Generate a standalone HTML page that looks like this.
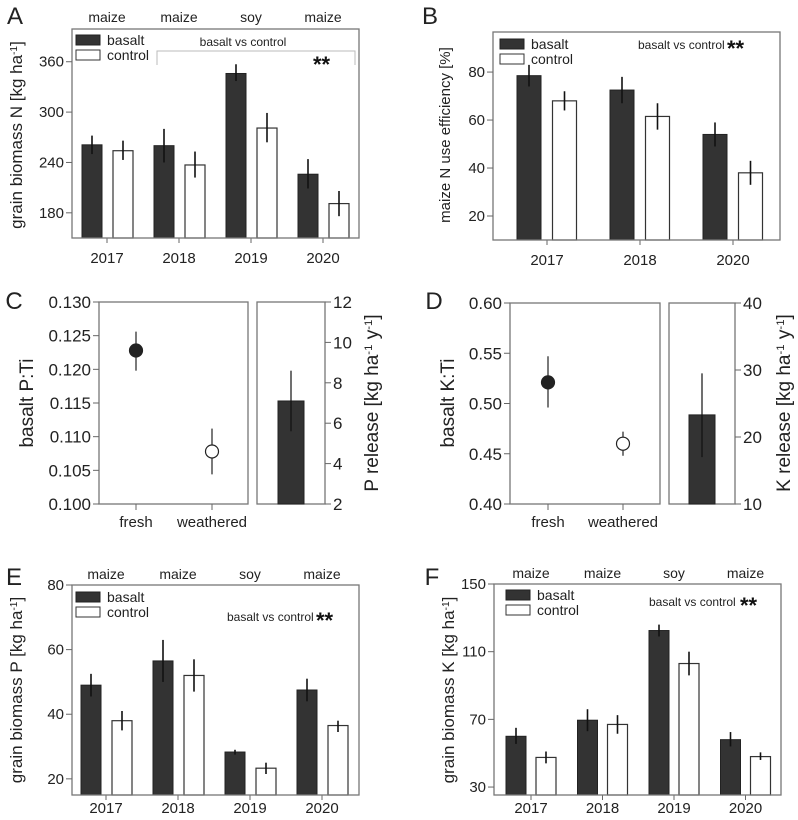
<!DOCTYPE html>
<html><head><meta charset="utf-8"><style>
body{margin:0;background:#fff}
svg{display:block;font-family:"Liberation Sans",sans-serif}
</style></head><body>
<svg id="c" width="798" height="820" viewBox="0 0 798 820"></svg>
<script>
// Panel A
const yearsA=["2017","2018","2019","2020"];
const cropsA=["maize","maize","soy","maize"];
const aBasalt=[261,260,346,226], aBasaltLo=[250,240,337,209], aBasaltHi=[272,280,357,244];
const aControl=[254,237,281,191], aControlLo=[243,222,264,176], aControlHi=[266,253,299,206];
const aTicks=[180,240,300,360];
// Panel B
const yearsB=["2017","2018","2020"];
const bBasalt=[78.5,72.5,54], bBasaltLo=[74,67,49], bBasaltHi=[83,78,59];
const bControl=[68,61.5,38], bControlLo=[64,56,33], bControlHi=[72,67,43];
const bTicks=[20,40,60,80];
// Panel C
const cCats=["fresh","weathered"];
const cRatio=[0.1228,0.1078], cRatioLo=[0.1198,0.1044], cRatioHi=[0.1256,0.1112];
const cTicks=["0.100","0.105","0.110","0.115","0.120","0.125","0.130"];
const cRelease=[7.1], cReleaseLo=[5.6], cReleaseHi=[8.6];
const cRTicks=[2,4,6,8,10,12];
// Panel D
const dRatio=[0.521,0.460], dRatioLo=[0.496,0.448], dRatioHi=[0.547,0.472];
const dTicks=["0.40","0.45","0.50","0.55","0.60"];
const dRelease=[23.3], dReleaseLo=[17], dReleaseHi=[29.5];
const dRTicks=[10,20,30,40];
// Panel E
const eBasalt=[49,56.5,28.3,47.5], eBasaltLo=[45.5,50,27.5,44], eBasaltHi=[52.5,63,29,51];
const eControl=[38,52,23.3,36.5], eControlLo=[35,47,21.5,34.5], eControlHi=[41,57,25,38];
const eTicks=[20,40,60,80];
// Panel F
const fBasalt=[60,69.5,122.5,58], fBasaltLo=[55.5,63,119,54], fBasaltHi=[65,76,126,62.5];
const fControl=[47.5,67,103,48], fControlLo=[44,61.5,96,46], fControlHi=[51,72.5,110,50.5];
const fTicks=[30,70,110,150];

const svg=document.getElementById('c');
const NS="http://www.w3.org/2000/svg";
function mk(tag,attrs,parent,text){const e=document.createElementNS(NS,tag);for(const k in attrs)e.setAttribute(k,attrs[k]);if(text!==undefined)e.textContent=text;(parent||svg).appendChild(e);return e;}
function scale(d0,d1,r0,r1){return v=>r0+(v-d0)/(d1-d0)*(r1-r0);}
function txt(x,y,s,size,anchor,name,rot){const t=mk('text',{x:x,y:y,'font-size':size,'text-anchor':anchor||'middle',fill:'#222'},svg,s);if(rot)t.setAttribute('transform','rotate(-90 '+x+' '+y+')');return t;}
function ylabel(x,y,parts,size,name){const t=mk('text',{x:x,y:y,'font-size':size,'text-anchor':'middle',fill:'#222',transform:'rotate(-90 '+x+' '+y+')'});parts.forEach(p=>{mk('tspan',p[1]?{'font-size':size*0.6,'baseline-shift':'super'}:{},t,p[0]);});return t;}
function errbar(x,lo,hi,y,name){const l=mk('line',{x1:x,x2:x,y1:y(lo),y2:y(hi),stroke:'#111','stroke-width':1.6});}
function stars(x,y,name){const t=txt(x,y,'**',22,'start',name);t.setAttribute('font-weight','bold');t.setAttribute('fill','#111');}

function barPanel(o){
  const y=scale(o.ymin,o.ymax,o.y1,o.y0);
  const g=mk('g',{});
  o.cats.forEach((c,i)=>{
    const cx=o.gx0+i*o.gs;
    const bw=o.bw;
    let r=mk('rect',{x:cx+o.offB-bw/2,y:y(o.b[i]),width:bw,height:o.y1-y(o.b[i]),fill:'#333',stroke:'#222','stroke-width':1},g);
    
    r=mk('rect',{x:cx+o.offC-bw/2,y:y(o.c[i]),width:bw,height:o.y1-y(o.c[i]),fill:'#fff',stroke:'#333','stroke-width':1.2},g);
    
    errbar(cx+o.offB,o.bl[i],o.bh[i],y,'error-basalt-'+c);
    errbar(cx+o.offC,o.cl[i],o.ch[i],y,'error-control-'+c);
    mk('line',{x1:cx,x2:cx,y1:o.y1,y2:o.y1+5,stroke:'#666'});
    txt(cx,o.y1+o.xlOff,c,15,'middle','x-tick-'+c);
    if(o.crops) txt(cx,o.cropY,o.crops[i],14,'middle','crop-label-'+c);
  });
  const f=mk('rect',{x:o.x0,y:o.y0,width:o.x1-o.x0,height:o.y1-o.y0,fill:'none',stroke:'#777','stroke-width':1.3});
  
  o.ticks.forEach(t=>{mk('line',{x1:o.x0-6,x2:o.x0,y1:y(t),y2:y(t),stroke:'#666'});txt(o.x0-8,y(t)+5,String(t),15,'end','y-tick-'+t);});
  const lg=mk('g',{});
  mk('rect',{x:o.lx,y:o.ly,width:24,height:10,fill:'#333',stroke:'#222'},lg);
  mk('rect',{x:o.lx,y:o.ly+15,width:24,height:10,fill:'#fff',stroke:'#333'},lg);
  txt(o.lx+31,o.ly+10,'basalt',14,'start','legend-basalt');
  txt(o.lx+31,o.ly+25,'control',14,'start','legend-control');
}

// A
barPanel({name:'panel-a',cats:yearsA,crops:cropsA,cropY:22,b:aBasalt,bl:aBasaltLo,bh:aBasaltHi,c:aControl,cl:aControlLo,ch:aControlHi,ticks:aTicks,ymin:150,ymax:399,x0:72,x1:359,y0:29,y1:238,gx0:107,gs:72,bw:20,offB:-15,offC:16,lx:76,ly:35,xlOff:25});
mk('polyline',{points:'157,65 157,51 355,51 355,65',fill:'none',stroke:'#bbb'});
txt(243,46,'basalt vs control',12,'middle','significance-label-a');
stars(313,72,'significance-stars-a');
txt(15,24,'A',24,'middle','panel-label-a');
ylabel(22,135,[['grain biomass N [kg ha'],['-1',1],[']']],17,'y-axis-title-a');

// B
barPanel({name:'panel-b',cats:yearsB,b:bBasalt,bl:bBasaltLo,bh:bBasaltHi,c:bControl,cl:bControlLo,ch:bControlHi,ticks:bTicks,ymin:10,ymax:96.7,x0:493,x1:780,y0:32,y1:240,gx0:547,gs:93,bw:24,offB:-18,offC:17.5,lx:500,ly:39,xlOff:25});
txt(638,49,'basalt vs control',12,'start','significance-label-b');
stars(727,56,'significance-stars-b');
txt(430,24,'B',24,'middle','panel-label-b');
ylabel(450,135,[['maize N use efficiency [%]']],15,'y-axis-title-b');

function ratioPanel(o){
  const y=scale(o.ymin,o.ymax,o.y1,o.y0);
  const f=mk('rect',{x:o.x0,y:o.y0,width:o.x1-o.x0,height:o.y1-o.y0,fill:'none',stroke:'#777','stroke-width':1.3});
  
  o.ticks.forEach(t=>{const v=parseFloat(t);mk('line',{x1:o.x0-6,x2:o.x0,y1:y(v),y2:y(v),stroke:'#666'});txt(o.x0-8,y(v)+6,t,17,'end','y-tick-'+t);});
  o.cats.forEach((c,i)=>{
    const cx=o.cx[i];
    mk('line',{x1:cx,x2:cx,y1:o.y1,y2:o.y1+6,stroke:'#666'});
    txt(cx,o.y1+23,c,15,'middle','x-tick-'+c);
    const l=mk('line',{x1:cx,x2:cx,y1:y(o.lo[i]),y2:y(o.hi[i]),stroke:'#333','stroke-width':1.3});
    
    const p=mk('circle',{cx:cx,cy:y(o.v[i]),r:6.5,fill:i==0?'#222':'#fff',stroke:'#222','stroke-width':1.2});
    
  });
  const y2=scale(o.rmin,o.rmax,o.y1,o.y0);
  const f2=mk('rect',{x:o.rx0,y:o.y0,width:o.rx1-o.rx0,height:o.y1-o.y0,fill:'none',stroke:'#777','stroke-width':1.3});
  
  o.rticks.forEach(t=>{mk('line',{x1:o.rx1,x2:o.rx1+6,y1:y2(t),y2:y2(t),stroke:'#666'});txt(o.rx1+8,y2(t)+6,String(t),17,'start','y2-tick-'+t);});
  const bc=(o.rx0+o.rx1)/2;
  const b=mk('rect',{x:bc-13,y:y2(o.rel[0]),width:26,height:o.y1-y2(o.rel[0]),fill:'#333',stroke:'#222'});
  
  const l=mk('line',{x1:bc,x2:bc,y1:y2(o.rlo[0]),y2:y2(o.rhi[0]),stroke:'#111','stroke-width':1.2});
  
}
ratioPanel({name:'panel-c',cats:cCats,cx:[136,212],v:cRatio,lo:cRatioLo,hi:cRatioHi,ticks:cTicks,ymin:0.1,ymax:0.13,x0:99,x1:248,y0:302,y1:504,rx0:257,rx1:325,rmin:2,rmax:12,rticks:cRTicks,rel:cRelease,rlo:cReleaseLo,rhi:cReleaseHi});
txt(14,309,'C',24,'middle','panel-label-c');
ylabel(33,403,[['basalt P:Ti']],19,'y-axis-title-c');
ylabel(378,403,[['P release [kg ha'],['-1',1],[' y'],['-1',1],[']']],19,'y2-axis-title-c');

ratioPanel({name:'panel-d',cats:cCats,cx:[548,623],v:dRatio,lo:dRatioLo,hi:dRatioHi,ticks:dTicks,ymin:0.4,ymax:0.6,x0:510,x1:660,y0:303,y1:504,rx0:669,rx1:735,rmin:10,rmax:40,rticks:dRTicks,rel:dRelease,rlo:dReleaseLo,rhi:dReleaseHi});
txt(434,309,'D',24,'middle','panel-label-d');
ylabel(454,403,[['basalt K:Ti']],19,'y-axis-title-d');
ylabel(790,403,[['K release [kg ha'],['-1',1],[' y'],['-1',1],[']']],19,'y2-axis-title-d');

// E
barPanel({name:'panel-e',cats:yearsA,crops:cropsA,cropY:579,b:eBasalt,bl:eBasaltLo,bh:eBasaltHi,c:eControl,cl:eControlLo,ch:eControlHi,ticks:eTicks,ymin:15,ymax:80,x0:72,x1:359,y0:585,y1:795,gx0:106,gs:72,bw:20,offB:-15,offC:16,lx:76,ly:592,xlOff:18});
txt(227,621,'basalt vs control',12,'start','significance-label-e');
stars(316,628,'significance-stars-e');
txt(14,585,'E',24,'middle','panel-label-e');
ylabel(22,690,[['grain biomass P [kg ha'],['-1',1],[']']],17,'y-axis-title-e');

// F
barPanel({name:'panel-f',cats:yearsA,crops:cropsA,cropY:578,b:fBasalt,bl:fBasaltLo,bh:fBasaltHi,c:fControl,cl:fControlLo,ch:fControlHi,ticks:fTicks,ymin:25.3,ymax:150,x0:494,x1:781,y0:584,y1:795,gx0:531,gs:71.5,bw:20,offB:-15,offC:15,lx:506,ly:590,xlOff:18});
txt(649,606,'basalt vs control',12,'start','significance-label-f');
stars(740,613,'significance-stars-f');
txt(432,585,'F',24,'middle','panel-label-f');
ylabel(454,690,[['grain biomass K [kg ha'],['-1',1],[']']],17,'y-axis-title-f');
</script>
</body></html>
